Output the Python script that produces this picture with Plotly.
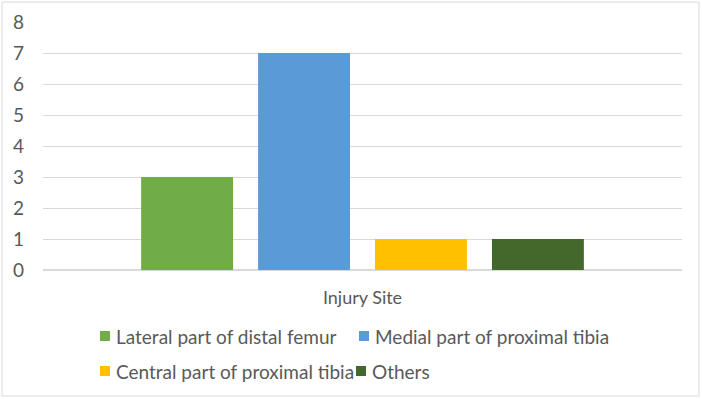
import plotly.graph_objects as go

categories = ["Injury Site"]
series_names = ["Lateral part of distal femur", "Medial part of proximal tibia",
                "Central part of proximal tibia", "Others"]
series_values = [[3], [7], [1], [1]]
colors = ["#70AD47", "#5B9BD5", "#FFC000", "#43682B"]
y_ticks = [0, 1, 2, 3, 4, 5, 6, 7, 8]

W, H = 702, 399
L, R, T, B = 43, 20, 22, 129
pw, ph = W - L - R, H - T - B

def px(x):
    return (x - L) / pw

def py(y):
    return (H - B - y) / ph

fig = go.Figure()
for name, vals, c in zip(series_names, series_values, colors):
    fig.add_trace(go.Bar(x=categories, y=vals, name=name, marker_color=c,
                         marker_line_width=0, showlegend=False))

font = dict(family="Lato, Carlito, sans-serif", size=19, color="#595959")
xfont = dict(family="Lato, Carlito, sans-serif", size=18, color="#595959")

# legend positions (pixel, left of square, row center)
leg_pos = [(100, 336), (359, 336), (100, 371), (356, 371)]
shapes = [dict(type="rect", xref="paper", yref="paper",
               x0=px(2), x1=px(699), y0=py(396), y1=py(2),
               line=dict(color="#D9D9D9", width=1), layer="below")]
annotations = []
for (lx, ly), name, c in zip(leg_pos, series_names, colors):
    shapes.append(dict(type="rect", xref="paper", yref="paper",
                       x0=px(lx), x1=px(lx + 10), y0=py(ly + 5), y1=py(ly - 5),
                       fillcolor=c, line=dict(width=0)))
    annotations.append(dict(x=px(lx + 14), y=py(ly), xref="paper", yref="paper",
                            text=name, showarrow=False, xanchor="left",
                            yanchor="middle", font=font))

fig.update_layout(
    width=W, height=H,
    margin=dict(l=L, r=R, t=T, b=B, autoexpand=False),
    paper_bgcolor="white", plot_bgcolor="white",
    font=font,
    barmode="group", bargap=0.268, bargroupgap=0.214,
    showlegend=False,
    xaxis=dict(showgrid=False, showline=False, ticks="", tickfont=xfont,
               ticklabelstandoff=15),
    yaxis=dict(range=[0, 8], tickvals=y_ticks, showgrid=True, gridcolor="#D9D9D9",
               gridwidth=1, zeroline=True, zerolinecolor="#D9D9D9", ticks="",
               tickfont=font, ticklabelstandoff=18),
    shapes=shapes,
    annotations=annotations,
)
fig.write_html("out.html", config={"displayModeBar": False},
               post_script="document.body.style.margin='0';document.body.style.padding='0';document.body.style.overflow='hidden';")
